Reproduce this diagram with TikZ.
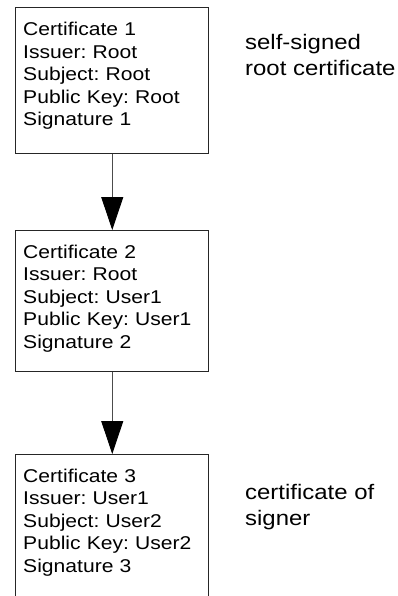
\documentclass[tikz,border=0pt]{standalone}
\usepackage{fontspec}
\setmainfont[FakeStretch=1.14]{Liberation Sans}
\usetikzlibrary{arrows.meta}
\frenchspacing

\tikzset{
  certbox/.style={draw=black!85, line width=0.9pt, anchor=north west, align=left,
    text width=178pt, inner xsep=7.5pt, inner ysep=0pt,
    text height=28pt, text depth=#1, font=\fontsize{18.5}{22.5}\selectfont},
  certbox/.default=118pt,
  note/.style={anchor=base west, align=left, inner sep=0pt,
    font=\fontsize{21}{26}\selectfont},
  link/.style={-{Triangle[width=22pt, length=33pt, color=black]}, draw=black!70, line width=0.9pt}
}

\begin{document}
\begin{tikzpicture}[x=1pt, y=-1pt]
        \useasboundingbox (0,0) rectangle (398,596);

        \node[certbox] (c1) at (15.3,7.3) {Certificate 1\\Issuer: Root\\Subject: Root\\Public Key: Root\\Signature 1};
        \node[certbox=113pt] (c2) at (15.3,230) {Certificate 2\\Issuer: Root\\Subject: User1\\Public Key: User1\\Signature 2};
        \node[certbox] (c3) at (15.3,454) {Certificate 3\\Issuer: User1\\Subject: User2\\Public Key: User2\\Signature 3};

        \node[note] (n1) at (245,75.7) {self-signed\\root certificate};
        \node[note] (n2) at (245,525) {certificate of\\signer};

        \draw[link] (c1) -- (c2);
        \draw[link] (c2) -- (c3);
      \end{tikzpicture}
\end{document}
